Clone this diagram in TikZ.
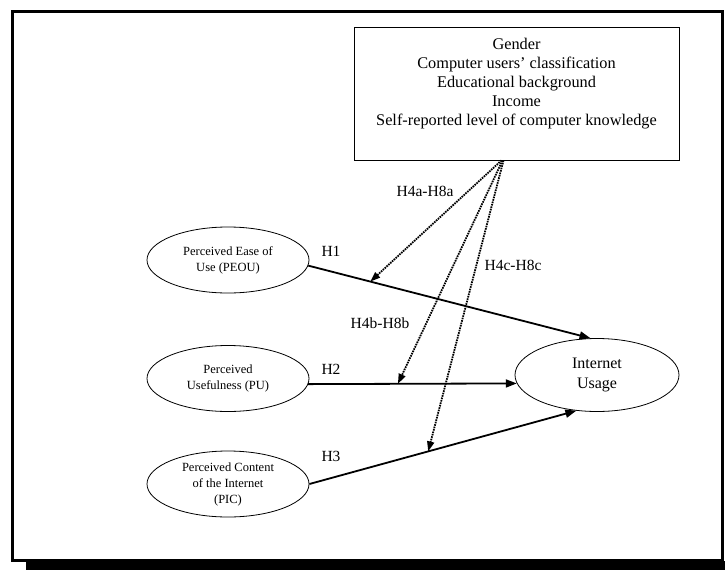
\documentclass[tikz,border=0pt]{standalone}
\usepackage{fontspec}
\setmainfont{Liberation Serif}
\usetikzlibrary{shapes.geometric,arrows.meta,positioning}

\begin{document}
\begin{tikzpicture}[x=1pt, y=-1pt,
    factor/.style={draw, ellipse, line width=0.8pt, inner sep=0pt, minimum width=162, minimum height=66, align=center, font=\fontsize{12.5}{16}\selectfont},
    hyp/.style={font=\fontsize{15.5}{18}\selectfont},
    direct/.style={line width=1.8pt, -{Triangle[length=11pt,width=8pt]}},
    moderate/.style={line width=1.8pt, dash pattern=on 1.6pt off 0.9pt, -{Triangle[length=10pt,width=7pt]}}]
    \useasboundingbox (0,0) rectangle (725,570);

    % Frame with shadow
    \draw[line width=3pt] (12.5,11.5) rectangle (722.5,560);
    \fill (26,561) rectangle (725,570);

    % Moderators
    \node[draw, rectangle, line width=0.8pt, minimum width=325, minimum height=133, align=center, font=\fontsize{16.3}{19}\selectfont] (mod) at (516.5,93.5) {Gender\\Computer users’ classification\\Educational background\\Income\\Self-reported level of computer knowledge\\[4pt]~};

    % Independent factors
    \node[factor] (peou) at (228,260) {Perceived Ease of\\Use (PEOU)};
    \node[factor] (pu) at (228,378.5) {Perceived\\Usefulness (PU)};
    \node[factor] (pic) at (228,484) {Perceived Content\\of the Internet\\(PIC)};

    % Dependent
    \node[draw, ellipse, line width=0.8pt, inner sep=0pt, minimum width=164, minimum height=73, align=center, font=\fontsize{16}{20}\selectfont] (usage) at (597,375) {Internet\\Usage};

    % Direct effects
    \draw[direct] (peou.-4) -- coordinate[pos=0.22] (on1) (usage.100);
    \draw[direct] (pu.-4) -- coordinate[pos=0.43] (on2) (usage.186);
    \draw[direct] (pic.east) -- coordinate[pos=0.445] (on3) (usage.240);

    % Moderating effects
    \draw[moderate] ([xshift=-15pt]mod.south) -- (on1);
    \draw[moderate] ([xshift=-14pt]mod.south) -- (on2);
    \draw[moderate] ([xshift=-13pt]mod.south) -- (on3);

    % Hypotheses
    \node[hyp] (h1) at (331,251) {H1};
    \node[hyp] (h2) at (331,369) {H2};
    \node[hyp] (h3) at (331,456) {H3};
    \node[hyp] (h4a) at (425,191) {H4a-H8a};
    \node[hyp] (h4b) at (380,323) {H4b-H8b};
    \node[hyp] (h4c) at (513,265) {H4c-H8c};
\end{tikzpicture}
\end{document}
